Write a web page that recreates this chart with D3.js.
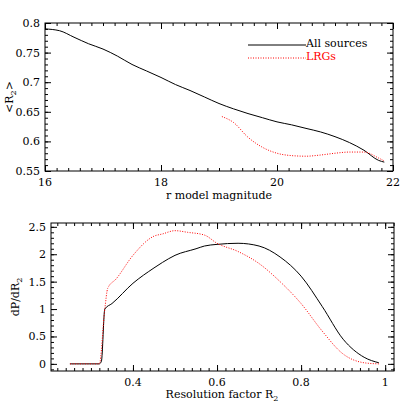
<!DOCTYPE html>
<html><head><meta charset="utf-8">
<script src="https://cdn.jsdelivr.net/npm/d3@7"></script>
<style>body{margin:0;background:#fff}text{font-family:"DejaVu Serif",serif;font-size:11px}</style>
</head><body>
<script>
// top panel: mean R2 vs magnitude
var magAll = [16,16.25,16.5,16.75,17,17.25,17.5,17.75,18,18.25,18.5,18.75,19,19.25,19.5,19.75,20,20.25,20.5,20.75,21,21.25,21.5,21.75,21.85];
var r2All  = [0.790,0.787,0.776,0.765,0.756,0.744,0.730,0.719,0.708,0.696,0.686,0.675,0.664,0.655,0.647,0.640,0.633,0.628,0.622,0.616,0.608,0.598,0.585,0.568,0.565];
var magLRG = [19.05,19.25,19.5,19.75,20,20.25,20.5,20.75,21,21.25,21.5,21.75,21.85];
var r2LRG  = [0.642,0.632,0.607,0.590,0.580,0.576,0.575,0.577,0.580,0.582,0.582,0.572,0.567];
// bottom panel: distribution of R2
var resAll = [0.25,0.32,0.325,0.333,0.35,0.4,0.45,0.47,0.5,0.55,0.57,0.6,0.65,0.7,0.75,0.8,0.85,0.9,0.95,0.985];
var pAll   = [0,0,0.05,1.0,1.1,1.47,1.75,1.85,1.98,2.1,2.15,2.18,2.2,2.15,1.95,1.6,1.05,0.45,0.12,0.02];
var resLRG = [0.25,0.32,0.333,0.34,0.36,0.4,0.45,0.47,0.5,0.53,0.57,0.6,0.65,0.7,0.75,0.8,0.85,0.9,0.95,0.985];
var pLRG   = [0,0,1.0,1.38,1.55,1.98,2.33,2.37,2.43,2.40,2.35,2.2,2.05,1.83,1.5,1.1,0.6,0.18,0.02,0];
var topTicks = [16,18,20,22], topYTicks = [0.55,0.6,0.65,0.7,0.75,0.8];
var botTicks = [0.4,0.6,0.8,1], botYTicks = [0,0.5,1,1.5,2,2.5];

var svg = d3.select("body").append("svg").attr("width",415).attr("height",415);

function panel(o){
  var x = d3.scaleLinear().domain(o.xd).range([o.x0,o.x1]);
  var y = d3.scaleLinear().domain(o.yd).range([o.y1,o.y0]);
  var g = svg.append("g");
  g.append("rect").attr("x",o.x0).attr("y",o.y0).attr("width",o.x1-o.x0).attr("height",o.y1-o.y0)
    .attr("fill","none").attr("stroke","#000");
  // inward major/minor ticks on all four sides
  [[d3.axisBottom(x),o.y0,o.xt,o.xm],[d3.axisTop(x),o.y1,o.xt,o.xm]].forEach(function(a,i){
    g.append("g").attr("transform","translate(0,"+a[1]+")").call(a[0].tickValues(x.ticks(a[3])).tickSize(3).tickFormat(""));
    g.append("g").attr("transform","translate(0,"+a[1]+")").call((i?d3.axisTop(x):d3.axisBottom(x)).tickValues(a[2]).tickSize(6).tickFormat(""));
  });
  [[d3.axisRight,o.x0],[d3.axisLeft,o.x1]].forEach(function(a){
    g.append("g").attr("transform","translate("+a[1]+",0)").call(a[0](y).tickValues(y.ticks(o.ym)).tickSize(3).tickFormat(""));
    g.append("g").attr("transform","translate("+a[1]+",0)").call(a[0](y).tickValues(o.yt).tickSize(6).tickFormat(""));
  });
  g.selectAll(".domain").remove();
  g.selectAll("text.xl").data(o.xt).enter().append("text").attr("x",function(d){return x(d);}).attr("y",o.y1+15)
    .attr("text-anchor","middle").text(function(d){return d;});
  g.selectAll("text.yl").data(o.yt).enter().append("text").attr("x",o.x0-5).attr("y",function(d){return y(d)+4;})
    .attr("text-anchor","end").text(function(d){return d;});
  var line = d3.line().x(function(d){return x(d[0]);}).y(function(d){return y(d[1]);}).curve(d3.curveMonotoneX);
  g.append("path").attr("d",line(d3.zip(o.ax,o.ay))).attr("fill","none").attr("stroke","#000").attr("stroke-width",1);
  g.append("path").attr("d",line(d3.zip(o.bx,o.by))).attr("fill","none").attr("stroke","#f00").attr("stroke-width",1).attr("stroke-dasharray","1,1.5");
  g.append("text").attr("x",(o.x0+o.x1)/2).attr("y",o.y1+28).attr("text-anchor","middle").text(o.xlab);
  g.append("text").attr("transform","translate("+(o.x0-32)+","+((o.y0+o.y1)/2)+") rotate(-90)").attr("text-anchor","middle").html(o.ylab);
}

panel({xd:[16,22],yd:[0.55,0.8],x0:45,x1:393,y0:23,y1:171,xt:topTicks,yt:topYTicks,xm:30,ym:25,
  ax:magAll,ay:r2All,bx:magLRG,by:r2LRG,xlab:"r model magnitude",
  ylab:'&lt;R<tspan dy="3" font-size="8">2</tspan><tspan dy="-3">&gt;</tspan>'});
panel({xd:[0.205,1.021],yd:[-0.13,2.57],x0:51,x1:394,y0:223,y1:371,xt:botTicks,yt:botYTicks,xm:40,ym:27,
  ax:resAll,ay:pAll,bx:resLRG,by:pLRG,xlab:"",
  ylab:'dP/dR<tspan dy="3" font-size="8">2</tspan>'});
svg.append("text").attr("x",222).attr("y",398).attr("text-anchor","middle")
  .html('Resolution factor R<tspan dy="3" font-size="8">2</tspan>');

// legend
svg.append("line").attr("x1",248).attr("x2",306).attr("y1",45).attr("y2",45).attr("stroke","#000");
svg.append("text").attr("x",306).attr("y",47).text("All sources");
svg.append("line").attr("x1",248).attr("x2",306).attr("y1",58).attr("y2",58).attr("stroke","#f00").attr("stroke-dasharray","1,1.5");
svg.append("text").attr("x",306).attr("y",60).attr("fill","#f00").text("LRGs");
</script>
</body></html>
